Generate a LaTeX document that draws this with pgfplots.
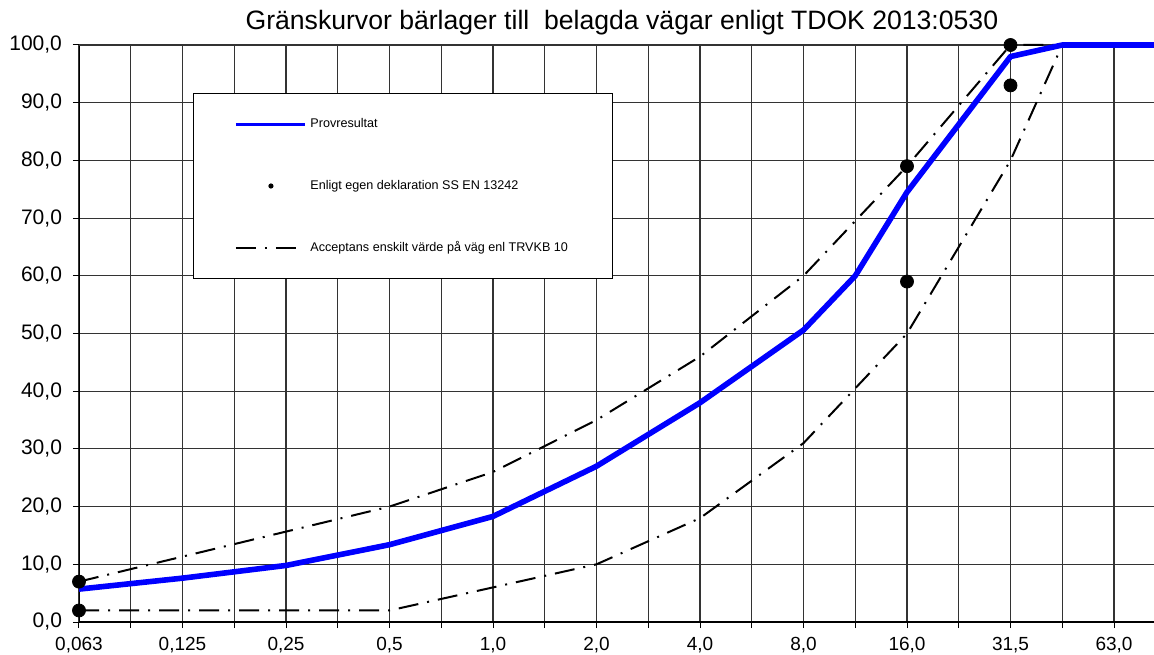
\documentclass[border=0pt]{standalone}
\usepackage{fontspec}
\setmainfont{Liberation Sans}
\usepackage{pgfplots}
\pgfplotsset{compat=1.18}
\begin{document}
\begin{tikzpicture}
\useasboundingbox (-39.5pt,-16pt) rectangle (537.5pt,311pt);
\begin{axis}[
  at={(0,0)}, anchor=south west,
  width=537.5pt, height=288.5pt, scale only axis,
  xmin=0, xmax=20.773, ymin=0, ymax=100,
  axis lines=left, axis line style={-},
  x axis line style={line width=0.9pt},
  xtick={0,2,...,20},
  xticklabels={{0,063},{0,125},{0,25},{0,5},{1,0},{2,0},{4,0},{8,0},{16,0},{31,5},{63,0}},
  minor xtick={1,3,...,19},
  ytick={0,10,...,100},
  yticklabel={\pgfmathprintnumber[fixed,fixed zerofill,precision=1,use comma]{\tick}},
  /pgf/number format/assume math mode=true,
  tick align=outside,
  major tick length=3pt, minor tick length=3pt,
  tick style={black, line width=0.5pt},
  grid=both,
  major grid style={black!80, line width=0.55pt},
  minor grid style={black!80, line width=0.55pt},
  extra y ticks={100}, extra y tick labels={},
  extra y tick style={grid style={line width=1.1pt, black!50}},
  xticklabel style={font=\fontsize{9.5}{11}\selectfont, yshift=-1pt},
  yticklabel style={font=\fontsize{10.5}{12}\selectfont, xshift=-2pt},
  clip=false,
  legend style={at={(0.106,0.9168)}, anchor=north west, draw=black, line width=0.5pt, fill=white,
    inner xsep=20.5pt, inner ysep=10pt, row sep=20.5pt,
    font=\fontsize{6.3}{7.5}\selectfont,
    nodes={inner sep=2pt, text height=5pt, text depth=1.5pt}},
  legend cell align=left,
]
\addlegendimage{legend image code/.code={\path[draw=none,fill=none] (0pt,-3pt) rectangle (34.5pt,3pt); \draw[blue, line width=1.5pt] (0pt,0pt) -- (34.5pt,0pt);}}
\addlegendentry{Provresultat}
\addlegendimage{legend image code/.code={\path[draw=none,fill=none] (0pt,-3pt) rectangle (34.5pt,3pt); \fill[black, draw=none] (17.5pt,0pt) circle (1.3pt);}}
\addlegendentry{Enligt egen deklaration SS EN 13242}
\addlegendimage{legend image code/.code={\path[draw=none,fill=none] (0pt,-3pt) rectangle (34.5pt,3pt); \draw[black, line width=1pt, dash pattern=on 10pt off 4.5pt on 1pt off 4.5pt] (0pt,0pt) -- (30.5pt,0pt);}}
\addlegendentry{Acceptans enskilt värde på väg enl TRVKB 10}

\addplot[forget plot, black, line width=1pt, dash pattern=on 10pt off 4.5pt on 1pt off 4.5pt] coordinates {(0,7) (6,20) (8,26) (10,35) (12,46) (14,60) (16,79) (18,100) (20.773,100)};
\addplot[forget plot, black, line width=1pt, dash pattern=on 10pt off 4.5pt on 1pt off 4.5pt] coordinates {(0,2) (6,2) (8,6) (10,10) (12,18) (14,31) (16,50) (18,80) (19,100) (20.773,100)};
\addplot[forget plot, blue, line width=2.8pt, line join=round] coordinates {(0,5.7) (2,7.6) (4,9.8) (6,13.4) (8,18.3) (10,27) (12,38) (14,50.6) (15,60) (16,74.5) (18,98) (19,100) (20.773,100)};
\addplot[forget plot, only marks, mark=*, mark size=3.25pt, black] coordinates {(0,7) (0,2) (16,79) (16,59) (18,100) (18,93)};
\node[anchor=base, inner sep=0pt, font=\fontsize{13.3}{15}\selectfont] at (rel axis cs:0.505,1.0277) {Gränskurvor bärlager till\ \ belagda vägar enligt TDOK 2013:0530};
\end{axis}
\end{tikzpicture}
\end{document}
